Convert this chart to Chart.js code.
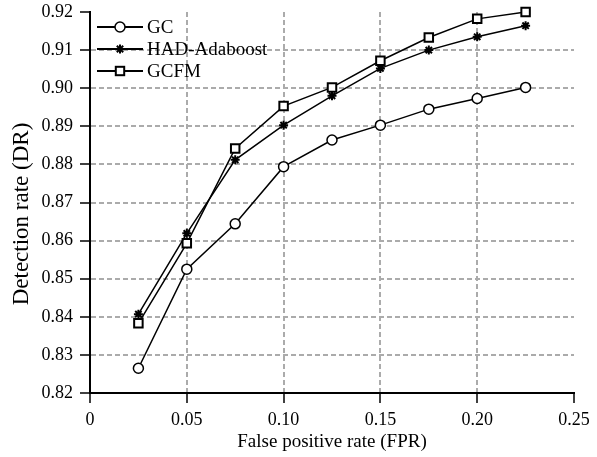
<!DOCTYPE html>
<html>
<head>
<meta charset="utf-8">
<script src="https://cdn.jsdelivr.net/npm/chart.js@4.4.1/dist/chart.umd.min.js"></script>
<style>
  html, body { margin: 0; padding: 0; background: #fff; }
  #wrap { width: 597px; height: 457px; }
</style>
</head>
<body>
<div id="wrap"><canvas id="rocChart" width="597" height="457"></canvas></div>
<script>
// data
var fpr = [0.025, 0.05, 0.075, 0.10, 0.125, 0.15, 0.175, 0.20, 0.225];
var gcDR = [0.8265, 0.8525, 0.8644, 0.8794, 0.8864, 0.8903, 0.8945, 0.8973, 0.9002];
var hadDR = [0.8407, 0.8619, 0.8812, 0.8903, 0.8980, 0.9052, 0.9100, 0.9135, 0.9164];
var gcfmDR = [0.8383, 0.8593, 0.8842, 0.8953, 0.9002, 0.9072, 0.9133, 0.9182, 0.9200];
var seriesNames = ["GC", "HAD-Adaboost", "GCFM"];
var xTicks = [0, 0.05, 0.10, 0.15, 0.20, 0.25];
var yTicks = [0.82, 0.83, 0.84, 0.85, 0.86, 0.87, 0.88, 0.89, 0.90, 0.91, 0.92];

var serif = "'Liberation Serif', 'Times New Roman', serif";
var gridGray = "#ababab";

function toPoints(ys) {
    return fpr.map(function (x, i) { return { x: x, y: ys[i] }; });
}

// draws one marker, used by the legend
function marker(ctx, style, x, y) {
    ctx.save();
    ctx.strokeStyle = "#000";
    ctx.fillStyle = "#fff";
    if (style === "circle") {
        ctx.lineWidth = 1.5;
        ctx.beginPath();
        ctx.arc(x, y, 5, 0, Math.PI * 2);
        ctx.fill();
        ctx.stroke();
    } else if (style === "rect") {
        ctx.lineWidth = 2;
        ctx.fillRect(x - 4.2, y - 4.2, 8.4, 8.4);
        ctx.strokeRect(x - 4.2, y - 4.2, 8.4, 8.4);
    } else {
        ctx.lineWidth = 2;
        ctx.beginPath();
        for (var a = 0; a < 4; a++) {
            var ang = a * Math.PI / 4;
            ctx.moveTo(x - 4.5 * Math.cos(ang), y - 4.5 * Math.sin(ang));
            ctx.lineTo(x + 4.5 * Math.cos(ang), y + 4.5 * Math.sin(ang));
        }
        ctx.stroke();
    }
    ctx.restore();
}

//legend inside the plot, line with marker through it
var insideLegend = {
    id: "insideLegend",
    afterDatasetsDraw: function (chart) {
        var ctx = chart.ctx;
        var area = chart.chartArea;
        chart.data.datasets.forEach(function (ds, i) {
            var y = area.top + 15 + i * 22;
            var x0 = area.left + 7;
            ctx.save();
            ctx.strokeStyle = "#000";
            ctx.lineWidth = 2;
            ctx.beginPath();
            ctx.moveTo(x0, y);
            ctx.lineTo(x0 + 46, y);
            ctx.stroke();
            marker(ctx, ds.pointStyle, x0 + 23, y);
            ctx.fillStyle = "#000";
            ctx.font = "19px " + serif;
            ctx.textBaseline = "middle";
            ctx.fillText(ds.label, x0 + 50, y + 1);
            ctx.restore();
        });
    }
};

function isEdge(v, a, b) {
    return Math.abs(v - a) < 1e-6 || Math.abs(v - b) < 1e-6;
}

var ctx = document.getElementById("rocChart").getContext("2d");
window.rocChart = new Chart(ctx, {
    type: "line",
    data: {
        datasets: [
            {
                label: seriesNames[0],
                data: toPoints(gcDR),
                borderColor: "#000",
                borderWidth: 1.5,
                pointStyle: "circle",
                pointRadius: 5,
                pointBorderWidth: 1.5,
                pointBackgroundColor: "#fff",
                pointBorderColor: "#000"
            },
            {
                label: seriesNames[1],
                data: toPoints(hadDR),
                borderColor: "#000",
                borderWidth: 1.5,
                pointStyle: "star",
                pointRadius: 4.5,
                pointBorderWidth: 2,
                pointBackgroundColor: "#000",
                pointBorderColor: "#000"
            },
            {
                label: seriesNames[2],
                data: toPoints(gcfmDR),
                borderColor: "#000",
                borderWidth: 1.5,
                pointStyle: "rect",
                pointRadius: 6,
                pointBorderWidth: 2,
                pointBackgroundColor: "#fff",
                pointBorderColor: "#000"
            }
        ]
    },
    options: {
        responsive: false,
        animation: false,
        clip: false,
        layout: { padding: { top: 12, right: 23, left: 0, bottom: 0 } },
        plugins: { legend: { display: false }, tooltip: { enabled: false } },
        scales: {
            x: {
                type: "linear",
                min: 0,
                max: 0.25,
                afterBuildTicks: function (scale) {
                    scale.ticks = xTicks.map(function (v) { return { value: v }; });
                },
                afterFit: function (scale) { scale.height = 64; },
                ticks: {
                    color: "#000",
                    font: { family: serif, size: 18 },
                    padding: 6,
                    maxRotation: 0,
                    callback: function (v) { return v === 0 ? "0" : v.toFixed(2); }
                },
                grid: {
                    color: function (c) {
                        return c.tick && isEdge(c.tick.value, 0, 0.25) ? "rgba(0,0,0,0)" : gridGray;
                    },
                    lineWidth: 2,
                    tickColor: "#000",
                    tickLength: 10,
                    tickWidth: 1.5
                },
                border: { color: "#000", width: 2, dash: [5, 3] },
                title: {
                    display: true,
                    text: "False positive rate (FPR)",
                    color: "#000",
                    font: { family: serif, size: 19 },
                    padding: { top: 0, bottom: 4 }
                }
            },
            y: {
                min: 0.82,
                max: 0.92,
                afterBuildTicks: function (scale) {
                    scale.ticks = yTicks.map(function (v) { return { value: v }; });
                },
                afterFit: function (scale) {
                    scale.width = 90;
                    scale.paddingTop = 0;
                    scale.paddingBottom = 0;
                },
                ticks: {
                    color: "#000",
                    font: { family: serif, size: 18 },
                    padding: 7,
                    callback: function (v) { return v.toFixed(2); }
                },
                grid: {
                    color: function (c) {
                        return c.tick && isEdge(c.tick.value, 0.82, 0.92) ? "rgba(0,0,0,0)" : gridGray;
                    },
                    lineWidth: 2,
                    tickColor: "#000",
                    tickLength: 10,
                    tickWidth: 1.5
                },
                border: { color: "#000", width: 2, dash: [5, 3] },
                title: {
                    display: true,
                    text: "Detection rate (DR)    ",
                    color: "#000",
                    font: { family: serif, size: 23 },
                    padding: { top: 8, bottom: 0 }
                }
            }
        }
    },
    plugins: [insideLegend]
});
</script>
</body>
</html>
